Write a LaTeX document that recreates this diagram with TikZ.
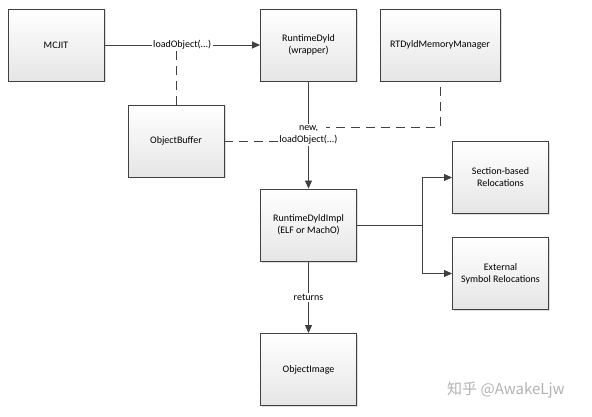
\documentclass[tikz,border=0pt]{standalone}
\usepackage{fontspec}
\setmainfont{Carlito}
\newfontfamily\cjk{Noto Sans CJK SC}
\usetikzlibrary{arrows.meta,calc,shadows}
\definecolor{edgegray}{HTML}{404040}

\begin{document}
\begin{tikzpicture}[x=1pt,y=-1pt,>={Triangle[length=8pt,width=7pt]},
  box/.style={draw=edgegray,line width=0.9pt,top color=white,bottom color=black!10,
    minimum width=96pt,minimum height=72pt,align=center,
    drop shadow={shadow xshift=1.5pt,shadow yshift=-1.5pt,opacity=0.25}},
  link/.style={draw=edgegray,line width=0.9pt},
  dashlink/.style={draw=edgegray,line width=0.9pt,dash pattern=on 9pt off 6pt},
  lbl/.style={fill=white,inner sep=1.5pt,align=center}]
  \useasboundingbox (0,0) rectangle (592,417);
  \fontsize{10}{12}\selectfont
  \node[box] (mcjit)  at (56,45)      {MCJIT};
  \node[box] (rtdyld) at (308.5,45)   {RuntimeDyld\\(wrapper)};
  \node[box,minimum width=120pt] (memmgr) at (440,45) {RTDyldMemoryManager};
  \node[box] (objbuf) at (176,141)    {ObjectBuffer};
  \node[box] (impl)   at (308.5,225)  {RuntimeDyldImpl\\(ELF or MachO)};
  \node[box] (secrel) at (500.5,177.5) {Section-based\\Relocations};
  \node[box] (extrel) at (500.5,273.5) {External\\Symbol Relocations};
  \node[box] (objimg) at (308.5,369.5) {ObjectImage};
  % where the dashed memory manager line stops, next to "new,"
  \coordinate (mmend) at (326,127);
  \coordinate (fork) at (422,225);
  \draw[link,->] (mcjit.east) -- node[lbl] (ldlbl) {loadObject(...)} (rtdyld.west);
  \draw[dashlink] (objbuf.north) -- (objbuf.north |- ldlbl.south);
  \draw[link,->] (rtdyld.south) -- node[lbl] (newlbl) {new,\\loadObject(...)} (impl.north);
  \draw[dashlink] (objbuf.east) -- (newlbl.west |- objbuf.east);
  \draw[dashlink] ($(memmgr.south)+(0,6)$) |- (mmend);
  \draw[link] (impl.east) -- (fork);
  \draw[link,->] (fork) |- (secrel.west);
  \draw[link,->] (fork) |- (extrel.west);
  \draw[link,->] (impl.south) -- node[lbl] {returns} (objimg.north);
  \node[text=black!30,font=\cjk\fontsize{15}{18}\selectfont] (mark) at (506,390) {知乎 @AwakeLjw};
\end{tikzpicture}
\end{document}
